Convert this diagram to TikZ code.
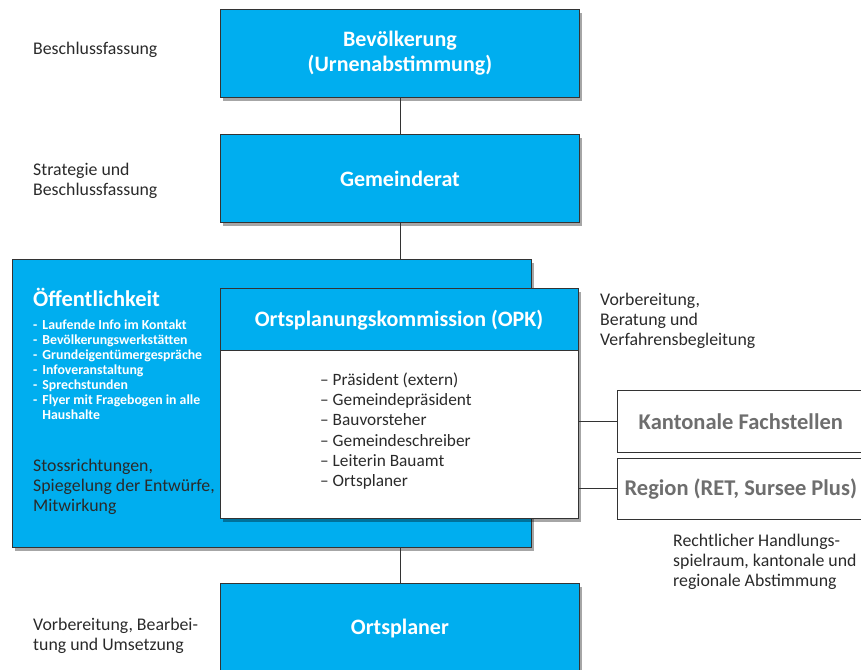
\documentclass[tikz,border=0pt]{standalone}
\usepackage{fontspec}
\setmainfont{Carlito}
\usetikzlibrary{shadows}
\definecolor{cy}{HTML}{00AEEF}
\definecolor{edge}{HTML}{333333}
\definecolor{txt}{HTML}{2A2A2A}
\definecolor{greyt}{HTML}{6E6E6E}
\begin{document}
\begin{tikzpicture}[x=1pt,y=-1pt,
  shad/.style={drop shadow={shadow xshift=3pt,shadow yshift=-4pt,fill=black,opacity=0.35}},
  bluebox/.style={draw=edge,line width=0.8pt,fill=cy,anchor=north west,inner sep=0pt,shad},
  whitebox/.style={draw=edge,line width=0.8pt,fill=white,anchor=north west,inner sep=0pt,shad},
  greybox/.style={draw=edge,line width=0.6pt,fill=white,anchor=north west,inner sep=0pt,
    text=greyt,font=\bfseries\fontsize{22.5}{26}\selectfont},
  titletext/.style={text=white,font=\bfseries\fontsize{22}{25}\selectfont,align=center},
  lbl/.style={text=txt,font=\fontsize{17.8}{20}\selectfont,align=left,anchor=west,inner sep=0pt},
  conn/.style={draw=edge,line width=0.8pt}]
\useasboundingbox (0,0) rectangle (861,669);

% left labels
\node[lbl] (l1) at (33,50) {Beschlussfassung};
\node[lbl] (l2) at (33,181) {Strategie und\\Beschlussfassung};
\node[lbl] (l3) at (33,636) {Vorbereitung, Bearbei-\\tung und Umsetzung};

% top boxes
\node[bluebox,minimum width=359pt,minimum height=88pt,titletext] (bev) at (220,9)
  {Bevölkerung\\(Urnenabstimmung)};
\node[bluebox,minimum width=359pt,minimum height=88pt,titletext] (gem) at (220,134)
  {Gemeinderat};

% Oeffentlichkeit
\node[bluebox,minimum width=519pt,minimum height=288pt] (oef) at (12,259) {};
\node[anchor=west,inner sep=0pt,text=white,font=\bfseries\fontsize{22.5}{26}\selectfont] (oeft) at (33,297) {Öffentlichkeit};
\node[anchor=north west,inner sep=0pt,text=white,font=\bfseries\fontsize{13.8}{15}\selectfont] (oefl) at (33,319)
  {\begin{tabular}{@{}l@{\hspace{5pt}}l@{}}
   - & Laufende Info im Kontakt\\
   - & Bevölkerungswerkstätten\\
   - & Grundeigentümergespräche\\
   - & Infoveranstaltung\\
   - & Sprechstunden\\
   - & Flyer mit Fragebogen in alle\\
     & Haushalte
   \end{tabular}};
\node[lbl] (oefs) at (33,487) {Stossrichtungen,\\Spiegelung der Entwürfe,\\Mitwirkung};

% OPK
\node[whitebox,minimum width=358pt,minimum height=230pt] (opk) at (220,288) {};
\fill[cy] (opk.north west) rectangle ([yshift=-62pt]opk.north east);
\draw[conn] ([yshift=-62pt]opk.north west) -- ([yshift=-62pt]opk.north east);
\draw[edge,line width=0.8pt] (opk.north west) rectangle (opk.south east);
\node[titletext] (opkt) at (399,320) {Ortsplanungskommission (OPK)};
\node[anchor=west,inner sep=0pt,align=left,text=txt,font=\fontsize{17.3}{20.2}\selectfont] (opkl) at (320,431)
  {– Präsident (extern)\\– Gemeindepräsident\\– Bauvorsteher\\– Gemeindeschreiber\\– Leiterin Bauamt\\– Ortsplaner};

% right side
\node[lbl] (r1) at (600,321) {Vorbereitung,\\Beratung und\\Verfahrensbegleitung};
\node[greybox,minimum width=247pt,minimum height=62pt] (kant) at (617,390) {Kantonale Fachstellen};
\node[greybox,minimum width=247pt,minimum height=61pt] (reg) at (617,458) {Region (RET, Sursee Plus)};
\node[lbl] (r2) at (673,562) {Rechtlicher Handlungs-\\spielraum, kantonale und\\regionale Abstimmung};

% Ortsplaner
\node[bluebox,minimum width=359pt,minimum height=90pt,titletext] (orts) at (220,583) {Ortsplaner};

% connectors
\draw[conn] (bev.south) -- (gem.north);
\draw[conn] (gem.south) -- (gem.south |- oef.north);
\draw[conn] (orts.north |- oef.south) -- (orts.north);
\draw[conn] (kant.west -| opk.east) -- (kant.west);
\draw[conn] (reg.west -| opk.east) -- (reg.west);
\end{tikzpicture}
\end{document}
